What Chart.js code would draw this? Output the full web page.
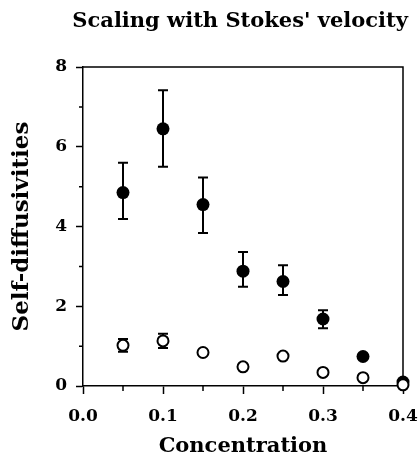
<!DOCTYPE html>
<html>
<head>
<meta charset="utf-8">
<script src="https://cdn.jsdelivr.net/npm/chart.js@4.4.1/dist/chart.umd.min.js"></script>
<style>
    html, body { margin: 0; padding: 0; background: white; }
    #wrap { width: 418px; height: 454px; }
</style>
</head>
<body>
<div id="wrap"><canvas id="c"></canvas></div>
<script>
const concentration = [0.05, 0.10, 0.15, 0.20, 0.25, 0.30, 0.35, 0.40];

const filledValues = [4.85, 6.45, 4.55, 2.88, 2.62, 1.68, 0.74, 0.10];
const filledHigh   = [5.60, 7.42, 5.23, 3.36, 3.03, 1.90, 0.78, 0.14];
const filledLow    = [4.19, 5.50, 3.84, 2.49, 2.28, 1.45, 0.70, 0.06];

const openValues = [1.02, 1.13, 0.84, 0.48, 0.75, 0.34, 0.21, 0.03];
const openHigh   = [1.18, 1.31, 0.88, 0.50, 0.77, 0.36, 0.23, 0.05];
const openLow    = [0.86, 0.95, 0.80, 0.46, 0.73, 0.32, 0.19, 0.01];

const xTicks = [0.0, 0.1, 0.2, 0.3, 0.4];
const xMinor = [0.05, 0.15, 0.25, 0.35];
const yTicks = [0, 2, 4, 6, 8];
const yMinor = [1, 3, 5, 7];

function points(values) {
    return concentration.map((x, i) => ({ x: x, y: values[i] }));
}

const serif = "'DejaVu Serif', serif";

// error bars, box frame and minor ticks
const extras = {
    id: 'extras',
    beforeDatasetsDraw(chart) {
        const ctx = chart.ctx;
        const xs = chart.scales.x;
        const ys = chart.scales.y;
        const a = chart.chartArea;

        ctx.save();
        ctx.strokeStyle = '#000';
        ctx.lineWidth = 1.5;

        // top and right of the box
        ctx.beginPath();
        ctx.moveTo(a.left, a.top);
        ctx.lineTo(a.right, a.top);
        ctx.lineTo(a.right, a.bottom);
        ctx.stroke();

        // minor ticks
        ctx.beginPath();
        xMinor.forEach(v => {
            const px = xs.getPixelForValue(v);
            ctx.moveTo(px, a.bottom);
            ctx.lineTo(px, a.bottom + 5);
        });
        yMinor.forEach(v => {
            const py = ys.getPixelForValue(v);
            ctx.moveTo(a.left, py);
            ctx.lineTo(a.left - 4, py);
        });
        ctx.stroke();

        // error bars
        ctx.lineWidth = 2;
        const bars = [[filledHigh, filledLow], [openHigh, openLow]];
        bars.forEach(([hi, lo]) => {
            concentration.forEach((c, i) => {
                const px = xs.getPixelForValue(c);
                const top = ys.getPixelForValue(hi[i]);
                const bot = ys.getPixelForValue(lo[i]);
                ctx.beginPath();
                ctx.moveTo(px, top);
                ctx.lineTo(px, bot);
                ctx.moveTo(px - 5, top);
                ctx.lineTo(px + 5, top);
                ctx.moveTo(px - 5, bot);
                ctx.lineTo(px + 5, bot);
                ctx.stroke();
            });
        });
        ctx.restore();
    }
};

new Chart(
    document.getElementById('c'),
    {
        type: 'scatter',

        data: {
            datasets: [
                {
                    label: 'open',
                    data: points(openValues),
                    pointRadius: 5.5,
                    pointBorderWidth: 2,
                    pointBackgroundColor: '#fff',
                    pointBorderColor: '#000',
                    clip: false
                },
                {
                    label: 'filled',
                    data: points(filledValues),
                    pointRadius: 6.5,
                    pointBorderWidth: 0,
                    pointBackgroundColor: '#000',
                    pointBorderColor: '#000',
                    clip: false
                }
            ]
        },

        options: {
            responsive: true,
            maintainAspectRatio: false,
            animation: false,

            layout: {
                padding: { left: 0, right: 10, top: 0, bottom: 0 }
            },

            plugins: {
                legend: { display: false },
                tooltip: { enabled: false },
                title: {
                    display: true,
                    align: 'end',
                    text: "Scaling with Stokes' velocity",
                    color: '#000',
                    font: { family: serif, size: 21, weight: 'bold', lineHeight: 1.2 },
                    padding: { top: 9, bottom: 32.8 }
                }
            },

            scales: {
                x: {
                    type: 'linear',
                    min: 0,
                    max: 0.4,
                    afterBuildTicks: s => { s.ticks = xTicks.map(v => ({ value: v })); },
                    afterFit: s => { s.height = 68; s.paddingLeft = 0; s.paddingRight = 15; },
                    border: { color: '#000', width: 1.5 },
                    grid: {
                        drawOnChartArea: false,
                        color: '#000',
                        tickLength: 8,
                        tickWidth: 1.5
                    },
                    ticks: {
                        color: '#000',
                        padding: 12,
                        maxRotation: 0,
                        font: { family: serif, size: 17, weight: 'bold' },
                        callback: v => v.toFixed(1)
                    },
                    title: {
                        display: true,
                        text: 'Concentration',
                        color: '#000',
                        font: { family: serif, size: 21, weight: 'bold', lineHeight: 1 },
                        padding: { top: 0, bottom: -3 }
                    }
                },

                y: {
                    type: 'linear',
                    min: 0,
                    max: 8,
                    afterBuildTicks: s => { s.ticks = yTicks.map(v => ({ value: v })); },
                    afterFit: s => { s.width = 83; s.paddingTop = 0; s.paddingBottom = 0; },
                    border: { color: '#000', width: 1.5 },
                    grid: {
                        drawOnChartArea: false,
                        color: '#000',
                        tickLength: 7,
                        tickWidth: 1.5
                    },
                    ticks: {
                        color: '#000',
                        padding: 9,
                        font: { family: serif, size: 17, weight: 'bold' }
                    },
                    title: {
                        display: true,
                        text: 'Self-diffusivities',
                        color: '#000',
                        font: { family: serif, size: 23, weight: 'bold', lineHeight: 1 },
                        padding: { top: 11, bottom: 0 }
                    }
                }
            }
        },

        plugins: [extras]
    }
);
</script>
</body>
</html>
